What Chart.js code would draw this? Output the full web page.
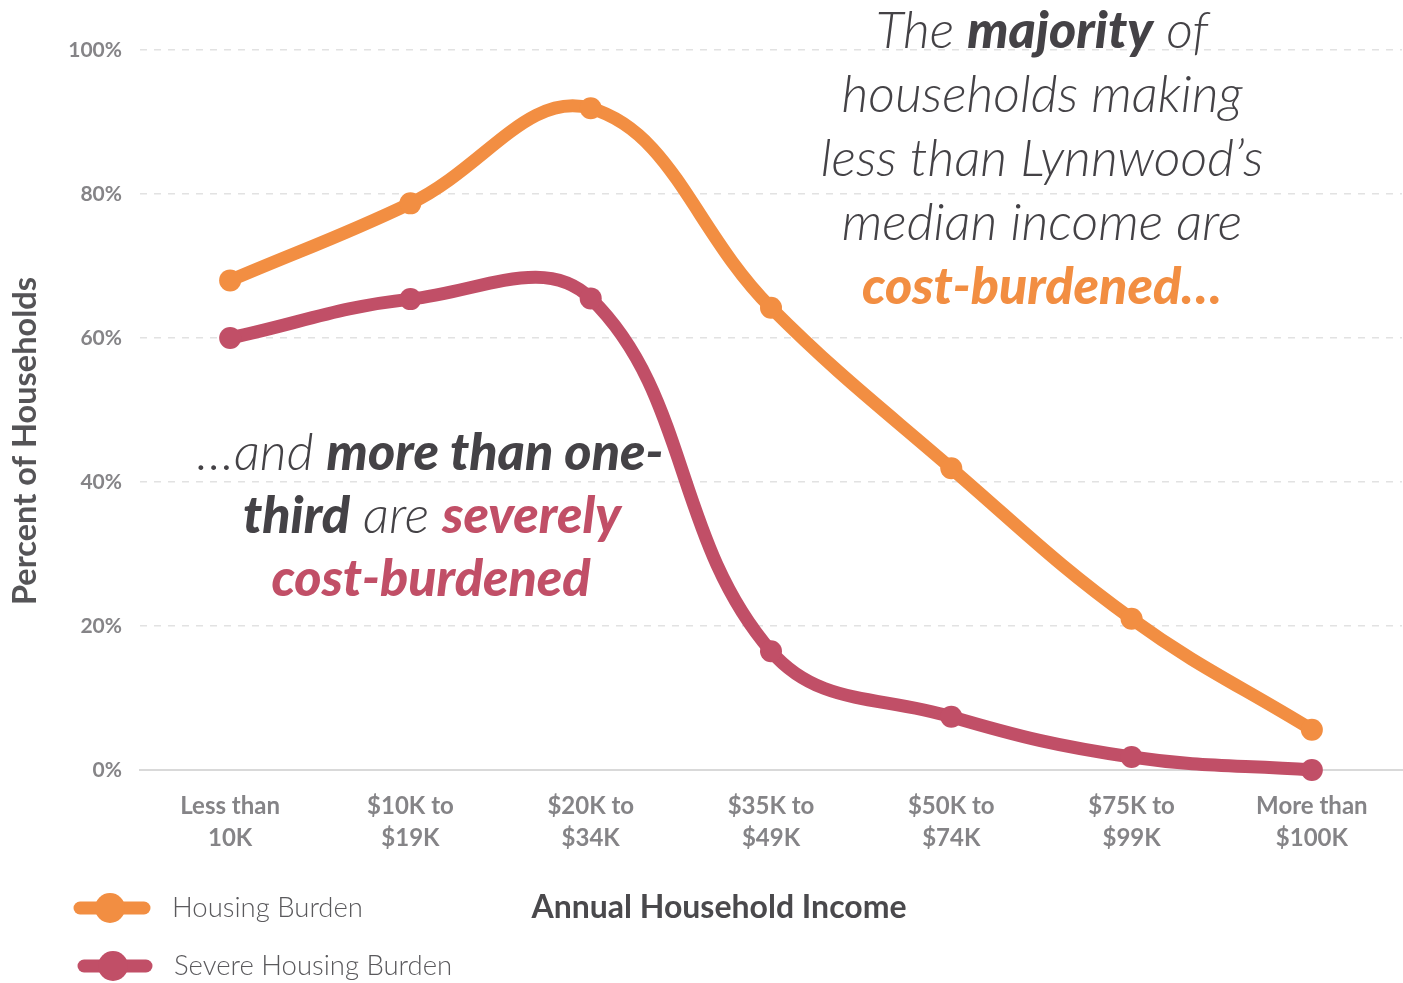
<!DOCTYPE html>
<html>
<head>
<meta charset="utf-8">
<script src="https://cdn.jsdelivr.net/npm/chart.js@4.4.1/dist/chart.umd.min.js"></script>
<style>
  html, body { margin: 0; padding: 0; background: #ffffff; }
  #wrap { position: relative; width: 1403px; height: 983px; }
</style>
</head>
<body>
<div id="wrap"><canvas id="burdenChart" width="1403" height="983"></canvas></div>
<script>
// Chart data
const incomeLabels = [
  ["Less than", "10K"],
  ["$10K to", "$19K"],
  ["$20K to", "$34K"],
  ["$35K to", "$49K"],
  ["$50K to", "$74K"],
  ["$75K to", "$99K"],
  ["More than", "$100K"],
];
const housingBurden = [68, 78.7, 91.9, 64.2, 41.9, 21, 5.6];
const severeBurden = [60, 65.4, 65.5, 16.5, 7.4, 1.8, 0];
const yTicks = [0, 20, 40, 60, 80, 100];

const ORANGE = "#f28e42";
const RED = "#c14f67";
const DARK = "#444246";
const FONT = "Lato, 'Open Sans', sans-serif";

// draw a line of mixed text runs centred on cx
function drawRuns(ctx, runs, cx, y) {
  let total = 0;
  runs.forEach((r) => {
    ctx.font = r.font;
    total += ctx.measureText(r.text).width;
  });
  let x = cx - total / 2;
  runs.forEach((r) => {
    ctx.font = r.font;
    ctx.fillStyle = r.color;
    ctx.fillText(r.text, x, y);
    x += ctx.measureText(r.text).width;
  });
}

// Titles, legend and notes
const extrasPlugin = {
  id: "extras",
  afterDraw(chart) {
    const ctx = chart.ctx;
    ctx.save();
    ctx.textBaseline = "alphabetic";
    ctx.textAlign = "left";

    // y axis title
    ctx.save();
    ctx.translate(36, 441);
    ctx.rotate(-Math.PI / 2);
    ctx.textAlign = "center";
    ctx.font = "bold 32.5px " + FONT;
    ctx.fillStyle = "#555457";
    ctx.fillText("Percent of Households", 0, 0);
    ctx.restore();

    // x axis title
    ctx.textAlign = "center";
    ctx.font = "bold 32px " + FONT;
    ctx.fillStyle = "#4a494c";
    ctx.fillText("Annual Household Income", 719, 918);

    // legend
    const items = [
      { label: "Housing Burden", color: ORANGE, x0: 80, x1: 144, dot: 110, y: 908, tx: 172 },
      { label: "Severe Housing Burden", color: RED, x0: 84, x1: 146, dot: 113, y: 966, tx: 174 },
    ];
    ctx.textAlign = "left";
    items.forEach((it) => {
      ctx.strokeStyle = it.color;
      ctx.lineWidth = 13;
      ctx.lineCap = "round";
      ctx.beginPath();
      ctx.moveTo(it.x0, it.y);
      ctx.lineTo(it.x1, it.y);
      ctx.stroke();
      ctx.fillStyle = it.color;
      ctx.beginPath();
      ctx.arc(it.dot, it.y, 15, 0, Math.PI * 2);
      ctx.fill();
      ctx.font = "300 27.5px " + FONT;
      ctx.fillStyle = "#5a595c";
      ctx.fillText(it.label, it.tx, it.y + 9);
    });

    // top right note
    const lt = "italic 300 52px " + FONT;
    const bd = "italic 900 52px " + FONT;
    drawRuns(ctx, [
      { text: "The ", font: lt, color: DARK },
      { text: "majority", font: bd, color: DARK },
      { text: " of", font: lt, color: DARK },
    ], 1042, 48);
    drawRuns(ctx, [{ text: "households making", font: lt, color: DARK }], 1042, 112);
    drawRuns(ctx, [{ text: "less than Lynnwood\u2019s", font: lt, color: DARK }], 1042, 176);
    drawRuns(ctx, [{ text: "median income are", font: lt, color: DARK }], 1042, 240);
    drawRuns(ctx, [{ text: "cost-burdened\u2026", font: bd, color: ORANGE }], 1042, 304);

    // lower left note
    drawRuns(ctx, [
      { text: "\u2026and ", font: lt, color: DARK },
      { text: "more than one-", font: bd, color: DARK },
    ], 430, 470);
    drawRuns(ctx, [
      { text: "third", font: bd, color: DARK },
      { text: " are ", font: lt, color: DARK },
      { text: "severely", font: bd, color: RED },
    ], 432, 533);
    drawRuns(ctx, [{ text: "cost-burdened", font: bd, color: RED }], 431, 596);

    ctx.restore();
  },
};

Chart.defaults.font.family = FONT;

new Chart(document.getElementById("burdenChart"), {
  type: "line",
  data: {
    labels: incomeLabels,
    datasets: [
      {
        label: "Housing Burden",
        data: housingBurden,
        borderColor: ORANGE,
        backgroundColor: ORANGE,
        borderWidth: 13,
        pointRadius: 11,
        pointBorderWidth: 0,
        pointBackgroundColor: ORANGE,
        tension: 0.4,
        borderCapStyle: "round",
        clip: false,
      },
      {
        label: "Severe Housing Burden",
        data: severeBurden,
        borderColor: RED,
        backgroundColor: RED,
        borderWidth: 13,
        pointRadius: 11,
        pointBorderWidth: 0,
        pointBackgroundColor: RED,
        tension: 0.4,
        borderCapStyle: "round",
        clip: false,
      },
    ],
  },
  options: {
    responsive: false,
    animation: false,
    layout: { autoPadding: false, padding: { top: 50, right: 1, left: 0, bottom: 0 } },
    plugins: {
      legend: { display: false },
      tooltip: { enabled: false },
    },
    scales: {
      x: {
        offset: true,
        grid: { display: false },
        border: { display: true, color: "#d9d9d9", width: 2 },
        ticks: {
          color: "#858487",
          padding: 12,
          maxRotation: 0,
          font: { size: 24, weight: "bold", lineHeight: "32px" },
        },
        afterFit(scale) {
          scale.height = 213;
        },
      },
      y: {
        min: 0,
        max: 100,
        afterBuildTicks(scale) {
          scale.ticks = yTicks.map((v) => ({ value: v }));
        },
        grid: {
          color: (c) => (c.tick && c.tick.value === 0 ? "rgba(0,0,0,0)" : "#e2e2e2"),
          lineWidth: 1.5,
          drawTicks: false,
        },
        border: { display: false, dash: [7, 7] },
        ticks: {
          color: "#858487",
          padding: 18,
          font: { size: 21, weight: "bold" },
          callback: (v) => v + "%",
        },
        afterFit(scale) {
          scale.width = 140;
        },
      },
    },
  },
  plugins: [extrasPlugin],
});
</script>
</body>
</html>
